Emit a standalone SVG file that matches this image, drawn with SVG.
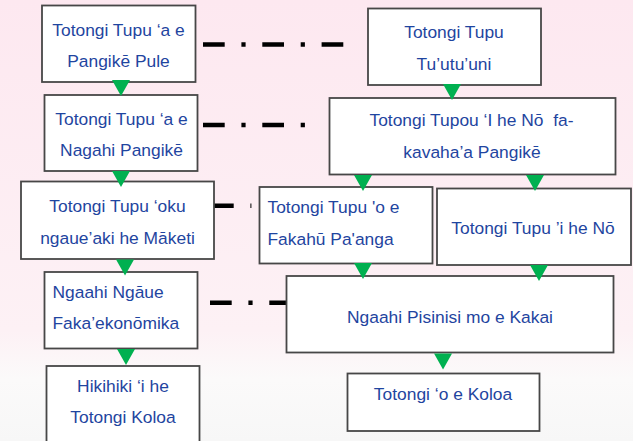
<svg xmlns="http://www.w3.org/2000/svg" width="633" height="441" viewBox="0 0 633 441">
<defs>
<linearGradient id="bg" x1="0" y1="0" x2="0" y2="1">
<stop offset="0" stop-color="#fde8f0"/>
<stop offset="0.75" stop-color="#fdf1f5"/>
<stop offset="0.86" stop-color="#fbfafa"/>
<stop offset="1" stop-color="#f7f7f7"/>
</linearGradient>
<polygon id="arr" points="-9,0 9,0 0,16" fill="#00b050"/>
</defs>
<style>
.box{fill:#ffffff;stroke:#474747;stroke-width:1.8}
.t{font-family:"Liberation Sans",Arial,sans-serif;font-size:17.4px;fill:#1f45a0}
.c{text-anchor:middle}
.dd{stroke:#000;stroke-width:4.4;fill:none;stroke-dasharray:21.7 16.7 4.2 16.7}
</style>
<rect width="633" height="441" fill="url(#bg)"/>
<g id="connectors">
<line class="dd" x1="203" y1="44.5" x2="343.3" y2="44.5"/>
<line class="dd" x1="203" y1="125" x2="305" y2="125"/>
<line class="dd" x1="212" y1="205.8" x2="251.4" y2="205.8"/>
<line class="dd" x1="210" y1="302.8" x2="287" y2="302.8"/>
</g>
<g id="nodeA"><rect class="box" x="42" y="5.5" width="153.5" height="76.5"/>
<text class="t c" x="118.5" y="35.5">Totongi Tupu ‘a e</text>
<text class="t c" x="118.5" y="67">Pangikē Pule</text></g>
<g id="nodeB"><rect class="box" x="368" y="8.5" width="173" height="76.5"/>
<text class="t c" x="454" y="37.5">Totongi Tupu</text>
<text class="t c" x="454" y="70">Tu’utu’uni</text></g>
<g id="nodeC"><rect class="box" x="44.5" y="95" width="153" height="76"/>
<text class="t c" x="121.5" y="125">Totongi Tupu ‘a e</text>
<text class="t c" x="121.5" y="155.5">Nagahi Pangikē</text></g>
<g id="nodeD"><rect class="box" x="329.5" y="98" width="286" height="76.5"/>
<text class="t c" x="471.5" y="125.5" xml:space="preserve">Totongi Tupou ‘I he Nō  fa-</text>
<text class="t c" x="472" y="158">kavaha’a Pangikē</text></g>
<g id="nodeE"><rect class="box" x="21" y="181.5" width="193" height="77.5"/>
<text class="t c" x="117.5" y="211.5">Totongi Tupu ‘oku</text>
<text class="t c" x="117.5" y="243.5">ngaue’aki he Māketi</text></g>
<g id="nodeF"><rect class="box" x="259.5" y="187" width="173" height="76.5"/>
<text class="t" x="267.5" y="212.5">Totongi Tupu 'o e</text>
<text class="t" x="267.5" y="244.5">Fakahū Pa'anga</text></g>
<g id="nodeG"><rect class="box" x="437" y="188.5" width="194" height="76.5"/>
<text class="t c" x="533" y="233.5">Totongi Tupu ’i he Nō</text></g>
<g id="nodeH"><rect class="box" x="44.5" y="272" width="153" height="76.5"/>
<text class="t" x="52.5" y="297.5">Ngaahi Ngāue</text>
<text class="t" x="52.5" y="329">Faka’ekonōmika</text></g>
<g id="nodeI"><rect class="box" x="286.5" y="276" width="327" height="76.5"/>
<text class="t c" x="450" y="322.5">Ngaahi Pisinisi mo e Kakai</text></g>
<g id="nodeJ"><rect class="box" x="46.5" y="366" width="153" height="80"/>
<text class="t c" x="123" y="392">Hikihiki ‘i he</text>
<text class="t c" x="123" y="423">Totongi Koloa</text></g>
<g id="nodeK"><rect class="box" x="347.5" y="373.5" width="192" height="57.5"/>
<text class="t c" x="443" y="400">Totongi ‘o e Koloa</text></g>
<g id="arrows">
<use href="#arr" x="121" y="80"/>
<use href="#arr" x="452" y="84"/>
<use href="#arr" x="121" y="171"/>
<use href="#arr" x="363" y="175"/>
<use href="#arr" x="535" y="175"/>
<use href="#arr" x="125" y="259.5"/>
<use href="#arr" x="363" y="263"/>
<use href="#arr" x="539" y="265"/>
<use href="#arr" x="126" y="349"/>
<use href="#arr" x="443" y="353.5"/>
</g>
</svg>
